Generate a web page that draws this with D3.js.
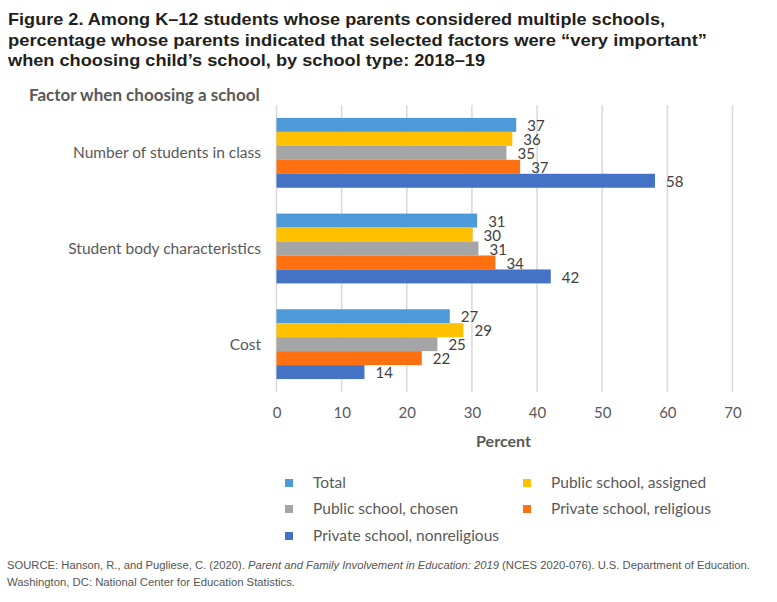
<!DOCTYPE html>
<html>
<head>
<meta charset="utf-8">
<script src="https://cdn.jsdelivr.net/npm/d3@7"></script>
<style>
  body { margin: 0; background: #fff; }
  svg { display: block; }
</style>
</head>
<body>
<svg id="chart"></svg>
<script>
// Data
const categories = ["Number of students in class", "Student body characteristics", "Cost"];
const seriesNames = ["Total", "Public school, assigned", "Public school, chosen", "Private school, religious", "Private school, nonreligious"];
const seriesColors = ["#4e9ad8", "#ffc000", "#a5a5a5", "#ff7010", "#4472c4"];
const totalValues = [36.8, 30.8, 26.6];
const assignedValues = [36.2, 30.1, 28.7];
const chosenValues = [35.3, 31.0, 24.7];
const religiousValues = [37.4, 33.6, 22.3];
const nonreligiousValues = [58.1, 42.1, 13.5];
const valueLabels = [[37, 31, 27], [36, 30, 29], [35, 31, 25], [37, 34, 22], [58, 42, 14]];
const xTicks = [0, 10, 20, 30, 40, 50, 60, 70];
const titleLines = [
  "Figure 2. Among K\u201312 students whose parents considered multiple schools,",
  "percentage whose parents indicated that selected factors were \u201cvery important\u201d",
  "when choosing child\u2019s school, by school type: 2018\u201319"
];

const seriesValues = [totalValues, assignedValues, chosenValues, religiousValues, nonreligiousValues];

const width = 777, height = 602;
const font = "Lato, 'Open Sans', sans-serif";
const svg = d3.select("#chart").attr("width", width).attr("height", height);

// Title
const titleWidths = [657, 699, 477];
svg.append("g").selectAll("text")
  .data(titleLines)
  .join("text")
  .attr("x", 8)
  .attr("y", (d, i) => 25 + i * 20.5)
  .attr("textLength", (d, i) => titleWidths[i])
  .attr("lengthAdjust", "spacingAndGlyphs")
  .style("font-family", "'Liberation Sans', Arial, sans-serif")
  .style("font-weight", "bold")
  .style("font-size", "17px")
  .style("fill", "#231f20")
  .text(d => d);

// Scales
const x = d3.scaleLinear([0, 70], [276.5, 732.5]);
const y = d3.scaleBand(categories, [105, 392]).paddingInner(0.27).paddingOuter(0.135);
const ySub = d3.scaleBand(d3.range(seriesNames.length), [0, y.bandwidth()]);

// Grid lines
svg.append("g").selectAll("line")
  .data(xTicks)
  .join("line")
  .attr("x1", d => x(d)).attr("x2", d => x(d))
  .attr("y1", 105).attr("y2", 392)
  .attr("stroke", "#d9d9d9")
  .attr("stroke-width", 1.5);

// Axis (labels only)
const xAxis = svg.append("g")
  .attr("transform", "translate(0,402)")
  .call(d3.axisBottom(x).tickValues(xTicks).tickSize(0).tickPadding(5));
xAxis.select(".domain").remove();
xAxis.selectAll("text")
  .style("font-family", font)
  .style("font-size", "15px")
  .style("fill", "#595959");

svg.append("text")
  .attr("x", x(35) - 1)
  .attr("y", 447)
  .attr("text-anchor", "middle")
  .style("font-family", font)
  .style("font-weight", "bold")
  .style("font-size", "16px")
  .style("fill", "#595959")
  .text("Percent");

// Category labels
svg.append("g").selectAll("text")
  .data(categories)
  .join("text")
  .attr("x", 261)
  .attr("y", d => y(d) + y.bandwidth() / 2)
  .attr("dy", "0.35em")
  .attr("text-anchor", "end")
  .style("font-family", font)
  .style("font-size", "15.5px")
  .style("fill", "#595959")
  .text(d => d);

svg.append("text")
  .attr("x", 29)
  .attr("y", 101)
  .style("font-family", font)
  .style("font-weight", "bold")
  .style("font-size", "17px")
  .style("fill", "#595959")
  .text("Factor when choosing a school");

// Bars
const groups = svg.append("g").selectAll("g")
  .data(categories)
  .join("g")
  .attr("transform", d => `translate(0,${y(d)})`);

groups.selectAll("rect")
  .data((c, ci) => seriesValues.map((vals, si) => ({ si, v: vals[ci], label: valueLabels[si][ci] })))
  .join("rect")
  .attr("x", x(0))
  .attr("y", d => ySub(d.si))
  .attr("width", d => x(d.v) - x(0))
  .attr("height", ySub.bandwidth())
  .attr("fill", d => seriesColors[d.si]);

groups.selectAll("text")
  .data((c, ci) => seriesValues.map((vals, si) => ({ si, v: vals[ci], label: valueLabels[si][ci] })))
  .join("text")
  .attr("x", d => x(d.v) + 11)
  .attr("y", d => ySub(d.si) + ySub.bandwidth() / 2 + 1)
  .attr("dy", "0.35em")
  .style("font-family", font)
  .style("font-size", "15px")
  .style("fill", "#404040")
  .text(d => d.label);

// Legend
const legendPos = [[285, 483], [523, 483], [285, 509], [523, 509], [285, 536]];
const legend = svg.append("g").selectAll("g")
  .data(seriesNames)
  .join("g")
  .attr("transform", (d, i) => `translate(${legendPos[i][0]},${legendPos[i][1]})`);
legend.append("rect")
  .attr("x", 0).attr("y", -4)
  .attr("width", 8).attr("height", 8)
  .attr("fill", (d, i) => seriesColors[i]);
legend.append("text")
  .attr("x", 28)
  .attr("dy", "0.35em")
  .style("font-family", font)
  .style("font-size", "15.5px")
  .style("fill", "#595959")
  .text(d => d);

// Source note
const source = svg.append("g")
  .style("font-family", "'Liberation Sans', Arial, sans-serif")
  .style("font-size", "10px")
  .style("fill", "#555");
const s1 = source.append("text").attr("x", 7).attr("y", 569)
  .attr("textLength", 743).attr("lengthAdjust", "spacingAndGlyphs");
s1.append("tspan").text("SOURCE: Hanson, R., and Pugliese, C. (2020). ");
s1.append("tspan").style("font-style", "italic").text("Parent and Family Involvement in Education: 2019");
s1.append("tspan").text(" (NCES 2020-076). U.S. Department of Education.");
source.append("text").attr("x", 7).attr("y", 586)
  .attr("textLength", 288).attr("lengthAdjust", "spacingAndGlyphs")
  .text("Washington, DC: National Center for Education Statistics.");
</script>
</body>
</html>
